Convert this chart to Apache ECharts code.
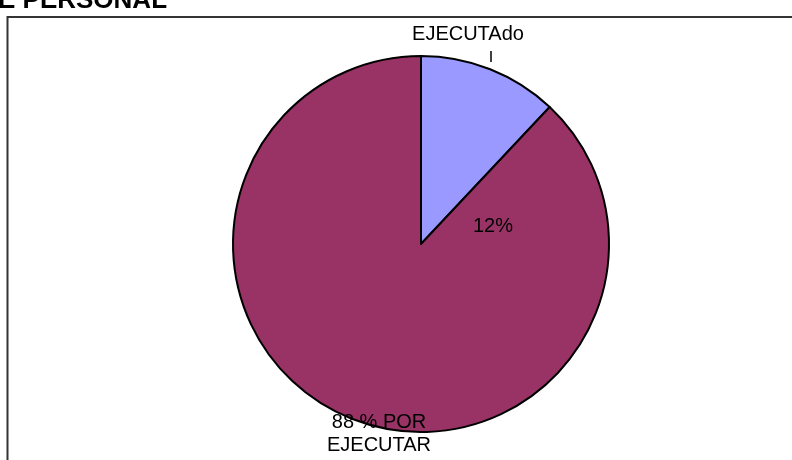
<!DOCTYPE html>
<html>
<head>
<meta charset="utf-8">
<script src="https://cdn.jsdelivr.net/npm/echarts@6/dist/echarts.min.js"></script>
<style>
  html,body{margin:0;padding:0;background:#fff;}
  #main{width:792px;height:460px;}
</style>
</head>
<body>
<div id="main"></div>
<script>
var titleText = 'E PERSONAL';
var categories = ['EJECUTAdo', 'POR EJECUTAR'];
var values = [12, 88];
var nameLabels = ['EJECUTAdo', '88 % POR\nEJECUTAR'];
var pctLabels = ['12%', ''];
var colors = ['#9999FF', '#993366'];

var chart = {
  init:function (){
    this.draw();
  },
  draw:function (){
    var myChart = echarts.init(document.getElementById('main'));
    var font = 'Liberation Sans, Arial, sans-serif';
    /*label positions on the page*/
    var namePos = [[468, 34], [379, 434]];
    var pctPos = [[493, 226]];

    var pieData = [];
    var pctData = [];
    for (var i = 0; i < categories.length; i++) {
      pieData.push({
        name:categories[i],
        value:values[i],
        itemStyle:{color:colors[i]},
        label:{formatter:nameLabels[i]},
        labelLine:{show:i === 0}
      });
      pctData.push({
        name:categories[i],
        value:values[i],
        label:{show:pctLabels[i] !== '', formatter:pctLabels[i]}
      });
    }

    var option = {
      animation:false,
      graphic:[
        {
          type:'rect',
          shape:{x:7.5, y:17, width:900, height:500},
          style:{fill:'none', stroke:'#333', lineWidth:2}
        },
        {
          type:'text',
          left:-2,
          top:-12,
          style:{text:titleText, fontFamily:font, fontWeight:'bold', fontSize:26, fill:'#000'}
        }
      ],
      series:[
        {
          type:'pie',
          center:[421, 244],
          radius:188,
          startAngle:90,
          clockwise:true,
          avoidLabelOverlap:false,
          silent:true,
          itemStyle:{borderColor:'#000', borderWidth:2},
          label:{
            show:true,
            position:'outside',
            color:'#000',
            fontFamily:font,
            fontSize:20,
            lineHeight:23,
            align:'center'
          },
          labelLine:{lineStyle:{color:'#000', width:1.5}},
          labelLayout:function (params){
            var p = namePos[params.dataIndex];
            var res = {x:p[0], y:p[1], align:'center', verticalAlign:'middle'};
            if (params.dataIndex === 0) {
              res.labelLinePoints = [[491, 62], [491, 57], [491, 51]];
            }
            return res;
          },
          data:pieData
        },
        {
          type:'pie',
          center:[421, 244],
          radius:188,
          startAngle:90,
          silent:true,
          itemStyle:{color:'rgba(0,0,0,0)'},
          label:{
            position:'inside',
            color:'#000',
            fontFamily:font,
            fontSize:20
          },
          labelLine:{show:false},
          labelLayout:function (params){
            var p = pctPos[params.dataIndex] || [0, 0];
            return {x:p[0], y:p[1], align:'center', verticalAlign:'middle'};
          },
          data:pctData
        }
      ]
    };
    myChart.setOption(option);
  }
};
chart.init();
</script>
</body>
</html>
